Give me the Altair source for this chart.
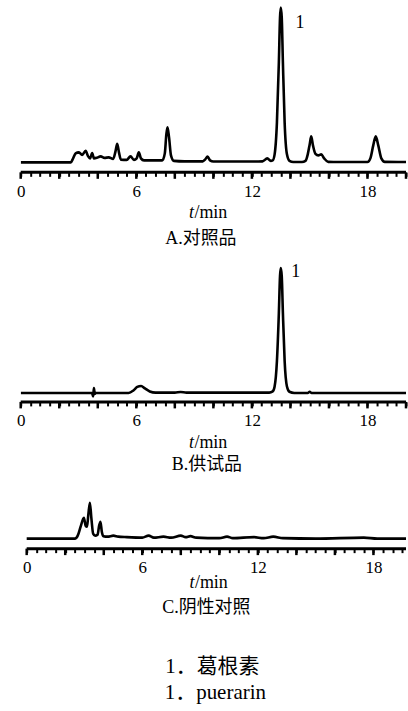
import altair as alt
import pandas as pd

# ---------------- data ----------------
# Panel A  对照品 (reference substance)
A_T = [0, 2.6, 2.72, 2.85, 3.02, 3.19, 3.37, 3.5, 3.6, 3.71, 3.8, 3.95, 4.15, 4.35, 4.57,
       4.8, 4.92, 5.01, 5.1, 5.2, 5.5, 5.7, 5.88, 6.02, 6.13, 6.24, 6.4, 7.0, 7.35, 7.48,
       7.56, 7.62, 7.7, 7.8, 7.95, 8.5, 9.45, 9.58, 9.7, 9.83, 10.0, 11.0, 12.0, 12.55, 12.8,
       12.98, 13.08, 13.18, 13.3, 13.4, 13.46, 13.5, 13.55, 13.61, 13.7, 13.82, 13.95, 14.15, 14.6,
       14.78, 14.9, 15.0, 15.08, 15.17, 15.3, 15.45, 15.6, 15.75, 15.96, 16.5, 18.0, 18.15, 18.3,
       18.43, 18.56, 18.72, 18.9, 20.0]
A_H = [0, 0, 4, 9, 10, 7.5, 11.5, 6, 4, 9.3, 4, 4.5, 6, 4.5, 5,
       3.5, 11, 18.7, 10, 2.7, 2.5, 6, 2.5, 4, 10, 4, 2, 2, 2, 9,
       28, 35, 25, 7, 1.5, 1, 1, 3, 5.7, 2, 0.8, 0.8, 0.8, 1, 4,
       1.5, 2, 8, 40, 100, 145, 155, 145, 100, 40, 8, 1.5, 0.3, 0.3,
       1.5, 8, 18, 26, 17, 8.5, 7, 8, 4, 0.5, 0.3, 0.3, 4, 17,
       26, 17, 4, 0.5, 0.3]

# Panel B  供试品 (test sample)
B_T = [0, 3.7, 3.76, 3.8, 3.84, 3.9, 5.6, 5.85, 6.05, 6.25, 6.45, 6.7, 7.0, 8.0, 8.3, 8.6,
       12.9, 13.08, 13.18, 13.3, 13.4, 13.46, 13.5, 13.55, 13.61, 13.7, 13.82, 13.95, 14.2,
       14.9, 15.0, 15.1, 16.0, 20.0]
B_H = [0, 0, -3.5, 5, -1, 0, 0, 2.5, 6, 7, 4.5, 1.5, 0.3, 0.3, 1, 0.3,
       0.3, 1.5, 6.5, 32, 80, 117, 125, 117, 80, 32, 6.5, 1.2, 0,
       0, 1.2, 0, 0, 0]

# Panel C  阴性对照 (negative control)
C_T = [0, 2.5, 2.65, 2.8, 2.97, 3.06, 3.13, 3.2, 3.28, 3.36, 3.45, 3.55, 3.68, 3.76, 3.83,
       3.9, 3.98, 4.2, 4.5, 4.75, 5.2, 6.0, 6.33, 6.6, 7.1, 7.5, 8.0, 8.25, 8.5, 8.8,
       10.0, 10.4, 10.7, 11.8, 12.3, 12.8, 13.3, 15.0, 17.5, 18.2, 20.0]
C_H = [0, 0, 3, 12, 21, 13, 12, 24, 36, 20, 5, 3, 4, 13, 17,
       7, 2.5, 2, 3, 2, 1.5, 1, 3, 1, 2, 1, 3, 1.5, 2.5, 1,
       0.5, 2, 0.5, 1.5, 0.5, 2, 0.5, 0, 1, 0, 0]

MINOR_TICKS = [0, 0.5, 1, 1.5, 2, 2.5, 3, 3.5, 4, 4.5, 5, 5.5, 6, 6.5, 7, 7.5, 8, 8.5, 9, 9.5,
               10, 10.5, 11, 11.5, 12, 12.5, 13, 13.5, 14, 14.5, 15, 15.5, 16, 16.5, 17, 17.5,
               18, 18.5, 19, 19.5, 20]
MAJOR_TICKS = [0, 2, 4, 6, 8, 10, 12, 14, 16, 18, 20]

PEAK_LABEL = "1"
CAPTIONS = ["A.对照品", "B.供试品", "C.阴性对照"]
LEGEND_CN = "1．葛根素"
LEGEND_EN = "1．puerarin"

SERIF = "Liberation Serif"
MIXED = "Liberation Serif, Noto Sans CJK SC"
W = 386


def text_layer(s, x, y, size, font=SERIF, style="normal", align="center"):
    return alt.Chart(pd.DataFrame({"s": [s]})).mark_text(
        font=font, fontSize=size, fontStyle=style, align=align,
        baseline="alphabetic", color="black"
    ).encode(text="s:N", x=alt.value(x), y=alt.value(y))


def panel(t, h, x_domain, y_domain, height, minor, major, axis_end,
          peak=None, title_y=0, title_split=173.5, caption="", cap_x=186, cap_y=0, extra=()):
    xs = alt.Scale(domain=x_domain, nice=False, zero=False)
    ys = alt.Scale(domain=y_domain, nice=False, zero=False)
    axis = alt.Axis(values=minor, tickSize=4, tickWidth=2, tickColor="black",
                    domain=False, grid=False, title=None,
                    labelExpr="datum.value % 6 === 0 ? format(datum.value, 'd') : ''",
                    labelFont=SERIF, labelFontSize=17, labelColor="black",
                    labelBaseline="alphabetic", labelPadding=20,
                    labelOverlap=False, labelFlush=False)

    def X(field):
        return alt.X(field, scale=xs, axis=axis)

    def Y(field):
        return alt.Y(field, scale=ys, axis=None)

    df = pd.DataFrame({"t": t, "h": h})
    line = alt.Chart(df).mark_line(color="black", strokeWidth=2.6,
                                   interpolate="monotone", clip=True).encode(
        x=X("t:Q"), y=Y("h:Q"))
    axline = alt.Chart(pd.DataFrame({"t": [0], "b": [axis_end]})).mark_rule(
        color="black", strokeWidth=3).encode(
        x=X("t:Q"), x2="b:Q", y=alt.value(height))
    majors = alt.Chart(pd.DataFrame({"t": major})).mark_rule(
        color="black", strokeWidth=2.5).encode(
        x=X("t:Q"), y=alt.value(height), y2=alt.value(height + 6.5))
    layers = [line, axline, majors]
    if peak is not None:
        layers.append(alt.Chart(pd.DataFrame({"t": [peak[0]], "h": [peak[1]], "s": [PEAK_LABEL]}))
                      .mark_text(font=SERIF, fontSize=18, baseline="alphabetic", color="black")
                      .encode(x=X("t:Q"), y=Y("h:Q"), text="s:N"))
    layers.append(text_layer("t", title_split, title_y, 18, style="italic", align="right"))
    layers.append(text_layer("/min", title_split + 0.5, title_y, 18, align="left"))
    layers.append(text_layer(caption, cap_x, cap_y, 18, font=MIXED))
    layers.extend(extra)
    return alt.layer(*layers).properties(width=W, height=height)


pA = panel(A_T, A_H, [0, 20], [-10, 162], 172, MINOR_TICKS, MAJOR_TICKS, 20,
           peak=(14.5, 135), title_y=218, caption=CAPTIONS[0], cap_x=180.5, cap_y=243.5)
pB = panel(B_T, B_H, [0, 20], [-9, 201], 210, MINOR_TICKS, MAJOR_TICKS, 20,
           peak=(14.28, 116), title_y=256, caption=CAPTIONS[1], cap_x=186.5, cap_y=278)
pC = panel(C_T, C_H, [-0.31, 19.69], [-10, 117], 127, MINOR_TICKS[:40], MAJOR_TICKS[:10], 19.69,
           title_y=166, title_split=174, caption=CAPTIONS[2], cap_x=186, cap_y=191.5,
           extra=(text_layer(LEGEND_CN, 192, 251.5, 21, font=MIXED),
                  text_layer(LEGEND_EN, 195, 278, 21, font=MIXED)))

chart = alt.vconcat(pA, pB, pC, spacing=20, bounds="flush").properties(
    padding={"left": 15.75, "top": 0, "right": 0, "bottom": 0},
    background="white",
).configure_view(stroke=None, fill="transparent")

chart.save("out.html", embed_options={"renderer": "svg", "actions": False})
